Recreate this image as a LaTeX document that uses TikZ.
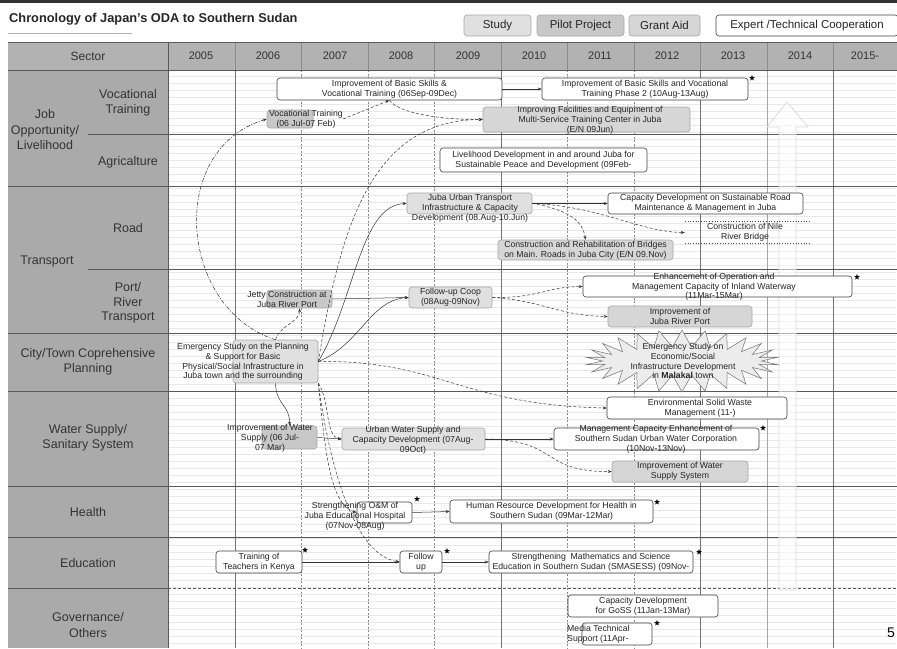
\documentclass[tikz,border=0pt]{standalone}
\usepackage{fontspec}
\setmainfont{Liberation Sans}
\usetikzlibrary{arrows.meta,shapes.geometric,shapes.symbols}
\definecolor{sectorfill}{RGB}{170,170,170}
\definecolor{headfill}{RGB}{178,178,178}
\definecolor{studyfill}{RGB}{224,224,224}
\definecolor{pilotfill}{RGB}{200,200,200}
\definecolor{grantfill}{RGB}{214,214,214}
\definecolor{burstfill}{RGB}{236,236,236}
\definecolor{faint}{RGB}{232,232,232}
\begin{document}
\begin{tikzpicture}[x=1pt,y=-1pt,
  expbox/.style={draw=black!75, fill=white, rounded corners=3pt, line width=0.6pt, inner sep=0pt},
  studybox/.style={draw=black!35, fill=studyfill, rounded corners=3pt, line width=0.6pt, inner sep=0pt},
  pilotbox/.style={draw=black!35, fill=pilotfill, rounded corners=3pt, line width=0.6pt, inner sep=0pt},
  grantbox/.style={draw=black!35, fill=grantfill, rounded corners=3pt, line width=0.6pt, inner sep=0pt},
  txt/.style={font=\fontsize{8.7}{9.8}\selectfont, align=center, inner sep=0pt, text=black!85},
  rowlab/.style={font=\fontsize{12.5}{15.5}\selectfont, align=center, inner sep=0pt, text=black!80},
  yearlab/.style={font=\fontsize{11}{13}\selectfont, inner sep=0pt, text=black!80},
  legend/.style={font=\fontsize{11.5}{13}\selectfont, inner sep=0pt, text=black!85},
  link/.style={line width=0.5pt, draw=black!80, -{Stealth[length=4pt,width=3pt]}},
  dlink/.style={link, dash pattern=on 3pt off 2pt},
  ddlink/.style={link, dash pattern=on 4pt off 1.5pt on 1pt off 1.5pt},
  ratestar/.style={star, star points=5, star point ratio=2.4, fill=black, draw=none, minimum size=6pt, inner sep=0pt},
  rowline/.style={draw=black!65, line width=0.9pt},
  gridsolid/.style={draw=black!55, line width=0.5pt},
  griddash/.style={draw=black!45, line width=0.5pt, dash pattern=on 2pt off 1.5pt}
]
\useasboundingbox (0,0) rectangle (897,648);

% top band, title and legend
\fill[black!80] (0,0) rectangle (897,3);
\node[anchor=west, font=\bfseries\fontsize{12.8}{14}\selectfont, inner sep=0pt, text=black!85] (title) at (9,19) {Chronology of Japan's ODA to Southern Sudan};
\draw[black!30, line width=0.6pt] (8,33) -- (132,33);
\node[studybox, minimum width=67pt, minimum height=21pt] (lgStudy) at (497.5,25.5) {};
\node[legend] (lgStudyT) at (lgStudy) {Study};
\node[pilotbox, minimum width=87pt, minimum height=21pt] (lgPilot) at (580.5,25.5) {};
\node[legend] (lgPilotT) at (lgPilot) {Pilot Project};
\node[grantbox, minimum width=71pt, minimum height=21pt] (lgGrant) at (664.5,25.5) {};
\node[legend] (lgGrantT) at (lgGrant) {Grant Aid};
\node[expbox, minimum width=182pt, minimum height=21pt] (lgExp) at (807,25.5) {};
\node[legend] (lgExpT) at (lgExp) {Expert /Technical Cooperation};

% header row and sector column
\fill[headfill] (8,42) rectangle (897,70);
\fill[sectorfill] (8,70) rectangle (168,648);

% faint ruling of the chart area
\foreach \yy in {76,83,...,645} \draw[faint, line width=0.5pt] (169,\yy) -- (896,\yy);

% year columns
\foreach \xx in {235,301,368,434,501,567,634,700,767,833} \draw[black!45, line width=0.6pt] (\xx,42) -- (\xx,70);
\foreach \xx in {235,501,700,833} \draw[gridsolid] (\xx,70) -- (\xx,648);
\foreach \xx in {301,368,434,567,634} \draw[griddash] (\xx,70) -- (\xx,648);
\draw[black!35, line width=0.5pt] (767,70) -- (767,648);
\node[yearlab] (y05) at (201,56) {2005};
\node[yearlab] (y06) at (268,56) {2006};
\node[yearlab] (y07) at (335,56) {2007};
\node[yearlab] (y08) at (401,56) {2008};
\node[yearlab] (y09) at (468,56) {2009};
\node[yearlab] (y10) at (534,56) {2010};
\node[yearlab] (y11) at (600,56) {2011};
\node[yearlab] (y12) at (667,56) {2012};
\node[yearlab] (y13) at (733,56) {2013};
\node[yearlab] (y14) at (800,56) {2014};
\node[yearlab] (y15) at (865,56) {2015-};
\node[font=\fontsize{12}{14}\selectfont, inner sep=0pt, text=black!80] (hSector) at (88,56) {Sector};

% row separators
\draw[rowline] (8,42) -- (897,42);
\foreach \yy in {70,186,333,391,486,537} \draw[rowline] (8,\yy) -- (897,\yy);
\draw[rowline] (88,134) -- (897,134);
\draw[rowline] (88,269) -- (897,269);
\draw[rowline] (8,588) -- (168,588);
\draw[rowline, dash pattern=on 3pt off 2pt] (168,588) -- (897,588);
\draw[rowline] (168,42) -- (168,648);

% sector labels
\node[rowlab] (lJob) at (45,130) {Job\\Opportunity/\\Livelihood};
\node[rowlab] (lVoc) at (128,103) {Vocational\\Training};
\node[rowlab] (lAgr) at (128,162) {Agricalture};
\node[rowlab] (lRoad) at (128,228) {Road};
\node[rowlab] (lTrans) at (47,261) {Transport};
\node[rowlab, font=\fontsize{12.5}{14.5}\selectfont] (lPort) at (128,303) {Port/\\River\\Transport};
\node[rowlab] (lCity) at (88,362) {City/Town Coprehensive\\Planning};
\node[rowlab] (lWater) at (88,438) {Water Supply/\\Sanitary System};
\node[rowlab] (lHealth) at (88,512) {Health};
\node[rowlab] (lEdu) at (88,563) {Education};
\node[rowlab] (lGov) at (88,625) {Governance/\\Others};

% large hollow arrow pointing upwards, barely visible
\draw[black!14, fill=white, fill opacity=0.55, line width=0.8pt]
  (779,590) -- (779,127) -- (767,127) -- (787,102) -- (808,127) -- (796,127) -- (796,590) -- cycle;

% project boxes
\node[expbox, minimum width=225pt, minimum height=22pt] (b1) at (389.5,89) {};
\node[expbox, minimum width=206pt, minimum height=22pt] (b2) at (645,89) {};
\node[pilotbox, minimum width=46pt, minimum height=18pt] (b3) at (290,119) {};
\node[grantbox, minimum width=207pt, minimum height=25pt] (b4) at (586.5,119.5) {};
\node[expbox, minimum width=207pt, minimum height=24pt] (b5) at (543.5,160) {};
\node[studybox, minimum width=125pt, minimum height=21pt] (b6) at (469.5,203.5) {};
\node[expbox, minimum width=195pt, minimum height=21pt] (b7) at (705.5,203.5) {};
\node[minimum width=125pt, minimum height=21pt, inner sep=0pt] (b8) at (747.5,232.5) {};
\draw[black!70, dotted, line width=0.7pt] (b8.north west) -- (b8.north east);
\draw[black!70, dotted, line width=0.7pt] (b8.south west) -- (b8.south east);
\node[grantbox, minimum width=175pt, minimum height=20pt] (b9) at (585.5,250) {};
\node[pilotbox, minimum width=65pt, minimum height=18pt] (b10) at (299.5,299) {};
\node[studybox, minimum width=83pt, minimum height=21pt] (b11) at (450.5,297.5) {};
\node[expbox, minimum width=269pt, minimum height=21pt] (b12) at (717.5,286.5) {};
\node[grantbox, minimum width=144pt, minimum height=21pt] (b13) at (680,316.5) {};
\node[studybox, minimum width=85pt, minimum height=43pt] (b14) at (275.5,361.5) {};
\node[starburst, starburst points=26, starburst point height=17pt, random starburst=0,
      draw=black!55, fill=burstfill, line width=0.5pt, minimum width=193pt, minimum height=62pt, inner sep=0pt] (b15) at (682,361) {};
\node[pilotbox, minimum width=55pt, minimum height=23pt] (b16) at (289.5,437.5) {};
\node[studybox, minimum width=143pt, minimum height=22pt] (b17) at (413.5,439) {};
\node[expbox, minimum width=180pt, minimum height=22pt] (b18) at (697,408) {};
\node[expbox, minimum width=205pt, minimum height=22pt] (b19) at (656.5,439) {};
\node[grantbox, minimum width=136pt, minimum height=21pt] (b20) at (680,471.5) {};
\node[expbox, minimum width=55pt, minimum height=21pt] (b21) at (384.5,512.5) {};
\node[expbox, minimum width=203pt, minimum height=23pt] (b22) at (551.5,511.5) {};
\node[expbox, minimum width=86pt, minimum height=22pt] (b23) at (259,562) {};
\node[expbox, minimum width=42pt, minimum height=22pt] (b24) at (421,562) {};
\node[expbox, minimum width=204pt, minimum height=22pt] (b25) at (591,562) {};
\node[expbox, minimum width=150pt, minimum height=22pt] (b26) at (643,606) {};
\node[expbox, minimum width=70pt, minimum height=22pt] (b27) at (617,634) {};

% connectors
\draw[link] (b1.east) -- (b2.west);
\draw[ddlink] (b14.north) .. controls (180,310) and (165,150) .. (b3.west);
\node[txt] (t3) at (306,119) {Vocational Training\\(06 Jul-07 Feb)};
\draw[dlink] (t3.east) -- (b1.south);
\draw[dlink] (b1.south) .. controls (400,115) and (450,120) .. (b4.west);
\draw[dlink] (b14.east) .. controls (340,230) and (370,120) .. (b4.west);
\draw[link] (b14.east) .. controls (355,300) and (360,205) .. (b6.west);
\draw[link] (b14.east) .. controls (360,345) and (370,300) .. (b11.west);
\draw[dlink] (b14.north) .. controls (280,325) and (300,322) .. (b10.south);
\draw[link] (b6.east) -- (b7.west);
\draw[dlink] (b6.east) .. controls (600,206) and (640,232) .. (b8.west);
\draw[dlink] (b6.east) .. controls (570,210) and (583,222) .. (b9.north);
\draw[link] (b10.east) -- (b11.west);
\draw[dlink] (b11.east) .. controls (540,298) and (545,287) .. (b12.west);
\draw[dlink] (b11.east) .. controls (540,300) and (560,316) .. (b13.west);
\draw[dlink] (b14.east) .. controls (440,360) and (460,405) .. (b18.west);
\draw[link] (b14.south) .. controls (276,405) and (290,405) .. (b16.north);
\draw[dlink] (b14.south east) .. controls (330,400) and (325,437) .. (b17.west);
\draw[dlink] (b14.south east) .. controls (325,450) and (330,505) .. (b21.west);
\draw[dlink] (b14.south east) .. controls (330,470) and (355,555) .. (b24.west);
\draw[link] (b16.east) -- (b17.west);
\draw[link] (b17.east) -- (b19.west);
\draw[dlink] (b17.east) .. controls (560,440) and (540,472) .. (b20.west);
\draw[link] (b21.east) -- (b22.west);
\draw[link] (b23.east) -- (b24.west);
\draw[link] (b24.east) -- (b25.west);

% box texts
\node[txt] (t1) at (b1) {Improvement of Basic Skills \&\\Vocational Training (06Sep-09Dec)};
\node[txt] (t2) at (b2) {Improvement of Basic Skills and Vocational\\Training Phase 2 (10Aug-13Aug)};
\node[txt] (t4) at (590,120) {Improving Facilities and Equipment of\\Multi-Service Training Center in Juba\\(E/N 09Jun)};
\node[txt] (t5) at (b5) {Livelihood Development in and around Juba for\\Sustainable Peace and Development (09Feb-};
\node[txt] (t6) at (470,208) {Juba Urban Transport\\Infrastructure \& Capacity\\Development (08.Aug-10.Jun)};
\node[txt] (t7) at (b7) {Capacity Development on Sustainable Road\\Maintenance \& Management in Juba};
\node[txt] (t8) at (745,232) {Construction of Nile\\River Bridge};
\node[txt] (t9) at (b9) {Construction and Rehabilitation of Bridges\\on Main. Roads in Juba City (E/N 09.Nov)};
\node[txt] (t10) at (287,299) {Jetty Construction at\\Juba River Port};
\node[txt] (t11) at (b11) {Follow-up Coop\\(08Aug-09Nov)};
\node[txt, font=\fontsize{8.7}{9.5}\selectfont] (t12) at (714,287) {Enhancement of Operation and\\Management Capacity of Inland Waterway\\(11Mar-15Mar)};
\node[txt] (t13) at (b13) {Improvement of\\Juba River Port};
\node[txt] (t14) at (243,362) {Emergency Study on the Planning\\\& Support for Basic\\Physical/Social Infrastructure in\\Juba town and the surrounding};
\node[txt] (t15) at (683,361) {Emergency Study on\\Economic/Social\\Infrastructure Development\\in \textbf{Malakal} town};
\node[txt] (t16) at (270,438) {Improvement of Water\\Supply (06 Jul-\\07 Mar)};
\node[txt] (t17) at (413,440) {Urban Water Supply and\\Capacity Development (07Aug-\\09Oct)};
\node[txt] (t18) at (700,408) {Environmental Solid Waste\\Management (11-)};
\node[txt] (t19) at (656,439) {Management Capacity Enhancement of\\Southern Sudan Urban Water Corporation\\(10Nov-13Nov)};
\node[txt] (t20) at (b20) {Improvement of Water\\Supply System};
\node[txt] (t21) at (355,516) {Strengthening O\&M of\\Juba Educational Hospital\\(07Nov-08Aug)};
\node[txt] (t22) at (b22) {Human Resource Development for Health in\\Southern Sudan (09Mar-12Mar)};
\node[txt] (t23) at (b23) {Training of\\Teachers in Kenya};
\node[txt] (t24) at (b24) {Follow\\up};
\node[txt] (t25) at (b25) {Strengthening\ \ Mathematics and Science\\Education in Southern Sudan (SMASESS) (09Nov-};
\node[txt] (t26) at (b26) {Capacity Development\\for GoSS (11Jan-13Mar)};
\node[txt, anchor=west, align=left] (t27) at (567,634) {Media Technical\\Support (11Apr-};

% stars for expert cooperation
\node[ratestar] (s2) at (752,78) {};
\node[ratestar] (s12) at (857,277) {};
\node[ratestar] (s19) at (763,428) {};
\node[ratestar] (s21) at (417,499) {};
\node[ratestar] (s22) at (657,502) {};
\node[ratestar] (s23) at (305,550) {};
\node[ratestar] (s24) at (447,551) {};
\node[ratestar] (s25) at (699,552) {};
\node[ratestar] (s27) at (657,623) {};

% page number at the right edge
\node[anchor=west, font=\fontsize{14}{16}\selectfont, inner sep=0pt] (pg) at (887,633) {5};
\end{tikzpicture}
\end{document}
